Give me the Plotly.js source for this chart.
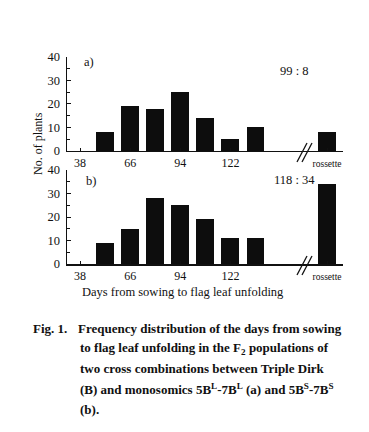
<!DOCTYPE html>
<html>
<head>
<meta charset="utf-8">
<script src="https://cdn.plot.ly/plotly-3.0.1.min.js"></script>
<style>html,body{margin:0;padding:0;background:#fff;}#chart{width:369px;height:432px;}</style>
</head>
<body>
<div id="chart"></div>
<script>
// Data
const days = [52, 66, 80, 94, 108, 122, 136];
const rossetteX = 176;
const countsA = [8, 19, 18, 25, 14, 5, 10];
const rossetteA = 8;
const countsB = [9, 15, 28, 25, 19, 11, 11];
const rossetteB = 34;
const tickVals = [38, 66, 94, 122, 176];
const tickText = ['38', '66', '94', '122', '<span style="font-size:9.5px">rossette</span>'];
const ratioA = '99 : 8';
const ratioB = '118 : 34';

const W = 369, H = 432;
const mL = 67, mR = 26, mT = 57, mB = 168;
const plotH = H - mT - mB;
const plotW = W - mL - mR;
const xRange = [30.7, 184.9];
function py(p) { return (H - mB - p) / plotH; }
function px(p) { return (p - mL) / plotW; }

const serif = 'Liberation Serif, Times New Roman, serif';
const barColor = '#0d0d0d';
const barW = 10;

const traces = [
  {type: 'bar', x: days.concat([rossetteX]), y: countsA.concat([rossetteA]), xaxis: 'x', yaxis: 'y',
   marker: {color: barColor, line: {width: 0}}, width: barW, hoverinfo: 'skip'},
  {type: 'bar', x: days.concat([rossetteX]), y: countsB.concat([rossetteB]), xaxis: 'x2', yaxis: 'y2',
   marker: {color: barColor, line: {width: 0}}, width: barW, hoverinfo: 'skip'}
];

function xax(anchor) {
  return {range: xRange, anchor: anchor, showgrid: false, zeroline: false,
    showline: true, linecolor: '#111', linewidth: 1.5,
    tickmode: 'array', tickvals: tickVals, ticktext: tickText,
    ticks: 'inside', ticklen: 3, tickcolor: '#111', tickwidth: 1,
    tickfont: {family: serif, size: 12, color: '#111'}, fixedrange: true};
}
function yax(domain, anchor) {
  return {range: [0, 40], domain: domain, anchor: anchor, showgrid: false, zeroline: false,
    showline: true, linecolor: '#111', linewidth: 1.5,
    tickmode: 'array', tickvals: [0, 10, 20, 30, 40],
    ticks: 'inside', ticklen: 4, tickcolor: '#111', tickwidth: 1,
    ticklabelstandoff: 3,
    minor: {tickmode: 'array', tickvals: [5, 15, 25, 35], ticks: 'inside', ticklen: 3, tickcolor: '#111', tickwidth: 1},
    tickfont: {family: serif, size: 12.5, color: '#111'}, fixedrange: true};
}

const slash = (xv, y0p, y1p, shift) => ({type: 'line', xref: 'paper', yref: 'paper',
  x0: px(xv + shift), y0: py(y0p), x1: px(xv + 10 + shift), y1: py(y1p),
  line: {color: '#111', width: 1.3}});

const capFont = {family: serif, size: 13, color: '#111'};
const capLines = [
  'Frequency distribution of the days from sowing',
  'to flag leaf unfolding in the F<sub>2</sub> populations of',
  'two cross combinations between Triple Dirk',
  '(B) and monosomics 5B<sup>L</sup>-7B<sup>L</sup> (a) and 5B<sup>S</sup>-7B<sup>S</sup>',
  '(b).'
];
const capY = [328, 348, 368, 389, 409];

const annotations = [
  {text: 'a)', x: px(82), y: py(62), xref: 'paper', yref: 'paper', xanchor: 'left', yanchor: 'middle', showarrow: false, font: {family: serif, size: 12.5, color: '#111'}},
  {text: ratioA, x: px(294), y: py(71), xref: 'paper', yref: 'paper', xanchor: 'center', yanchor: 'middle', showarrow: false, font: {family: serif, size: 12.5, color: '#111'}},
  {text: 'b)', x: px(84), y: py(181), xref: 'paper', yref: 'paper', xanchor: 'left', yanchor: 'middle', showarrow: false, font: {family: serif, size: 12.5, color: '#111'}},
  {text: ratioB, x: px(294), y: py(180), xref: 'paper', yref: 'paper', xanchor: 'center', yanchor: 'middle', showarrow: false, font: {family: serif, size: 12.5, color: '#111'}},
  {text: 'No. of plants', x: px(38), y: py(144), xref: 'paper', yref: 'paper', xanchor: 'center', yanchor: 'middle', textangle: -90, showarrow: false, font: {family: serif, size: 12, color: '#111'}},
  {text: 'Days from sowing to flag leaf unfolding', x: px(183), y: py(292), xref: 'paper', yref: 'paper', xanchor: 'center', yanchor: 'middle', showarrow: false, font: {family: serif, size: 12.5, color: '#111'}},
  {text: '<b>Fig. 1.</b>', x: px(31), y: py(capY[0]), xref: 'paper', yref: 'paper', xanchor: 'left', yanchor: 'middle', showarrow: false, font: capFont}
];
capLines.forEach((t, i) => annotations.push({text: '<b>' + t + '</b>', x: px(i === 0 ? 76 : 78), y: py(capY[i]), xref: 'paper', yref: 'paper',
  xanchor: 'left', yanchor: 'middle', showarrow: false, font: capFont}));

const layout = {
  width: W, height: H, margin: {l: mL, r: mR, t: mT, b: mB},
  paper_bgcolor: '#fff', plot_bgcolor: '#fff', showlegend: false, bargap: 0,
  xaxis: xax('y'), yaxis: yax([0.546, 1], 'x'),
  xaxis2: xax('y2'), yaxis2: yax([0, 0.454], 'x2'),
  shapes: [slash(297, 162, 143, 0), slash(297, 162, 143, 5), slash(297, 275, 256, 0), slash(297, 275, 256, 5)],
  annotations: annotations
};

Plotly.newPlot('chart', traces, layout, {displayModeBar: false, staticPlot: true});
</script>
</body>
</html>
